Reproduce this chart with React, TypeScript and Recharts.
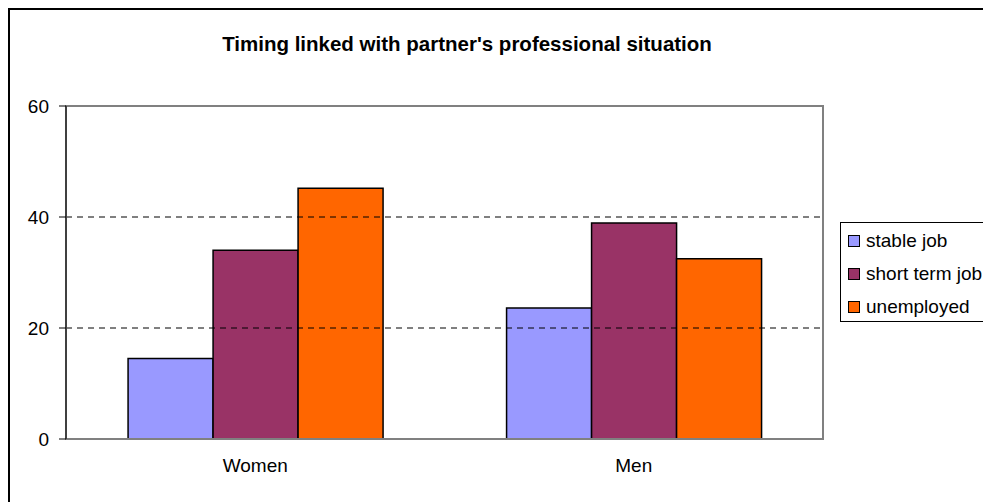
import React from 'react';
import { BarChart, Bar, XAxis, YAxis, ReferenceLine, ReferenceArea } from 'recharts';

const categories = ['Women', 'Men'];
const stableJob = [14.5, 23.6];
const shortTermJob = [34.0, 38.9];
const unemployed = [45.2, 32.5];
const yTicks = [0, 20, 40, 60];
const gridValues = [20, 40];

const series = [
  { key: 'stable', name: 'stable job', color: '#9999ff', values: stableJob },
  { key: 'short', name: 'short term job', color: '#993366', values: shortTermJob },
  { key: 'unemployed', name: 'unemployed', color: '#ff6600', values: unemployed },
];

const data = categories.map((c, i) => ({
  name: c,
  stable: stableJob[i],
  short: shortTermJob[i],
  unemployed: unemployed[i],
}));

const FONT = '"Liberation Sans", Arial, sans-serif';

function LegendBox() {
  return (
    <div
      style={{
        position: 'absolute',
        left: 830,
        top: 212,
        border: '1px solid #000',
        background: '#fff',
        width: 200,
        height: 100,
        boxSizing: 'border-box',
        paddingTop: 1,
        fontFamily: FONT,
        fontSize: 19,
        color: '#000',
      }}
    >
      {series.map((s) => (
        <div key={s.key} style={{ display: 'flex', alignItems: 'center', height: 33, paddingLeft: 7 }}>
          <span
            style={{
              display: 'inline-block',
              width: 10,
              height: 10,
              background: s.color,
              border: '1px solid #000',
              marginRight: 6,
            }}
          />
          <span style={{ whiteSpace: 'nowrap' }}>{s.name}</span>
        </div>
      ))}
    </div>
  );
}

export default function App() {
  return (
    <div
      style={{
        position: 'relative',
        width: 983,
        height: 494,
        borderLeft: '2px solid #000',
        borderTop: '2px solid #000',
        boxSizing: 'border-box',
        overflow: 'hidden',
        background: '#fff',
      }}
    >
      <div
        style={{
          position: 'absolute',
          top: 22,
          left: 0,
          width: 914,
          textAlign: 'center',
          fontFamily: FONT,
          fontWeight: 'bold',
          fontSize: 20.5,
          color: '#000',
        }}
      >
        Timing linked with partner's professional situation
      </div>
      <div style={{ position: 'absolute', left: -2, top: -2 }}>
        <BarChart
          width={983}
          height={494}
          data={data}
          margin={{ top: 98, right: 168, bottom: 33, left: 0 }}
          barCategoryGap="16.4%"
          barGap={0}
        >
          <ReferenceArea
            x1="Women"
            x2="Men"
            y1={0}
            y2={60}
            fill="none"
            stroke="#808080"
            strokeWidth={2}
            ifOverflow="visible"
          />
          {gridValues.map((v) => (
            <ReferenceLine key={v} y={v} stroke="#000" strokeDasharray="6 5" />
          ))}
          <XAxis
            dataKey="name"
            tickLine={false}
            tickSize={0}
            tickMargin={20}
            axisLine={{ stroke: '#808080', strokeWidth: 2 }}
            tick={{ fill: '#000', fontSize: 19, fontFamily: FONT }}
          />
          <YAxis
            domain={[0, 60]}
            ticks={yTicks}
            width={58}
            tickSize={7}
            tickMargin={10}
            tickLine={{ stroke: '#000' }}
            axisLine={{ stroke: '#404040', strokeWidth: 2 }}
            tick={{ fill: '#000', fontSize: 19, fontFamily: FONT }}
          />
          {series.map((s) => (
            <Bar
              key={s.key}
              dataKey={s.key}
              name={s.name}
              fill={s.color}
              stroke="#000"
              strokeWidth={1.5}
              isAnimationActive={false}
            />
          ))}
        </BarChart>
      </div>
      <LegendBox />
    </div>
  );
}
